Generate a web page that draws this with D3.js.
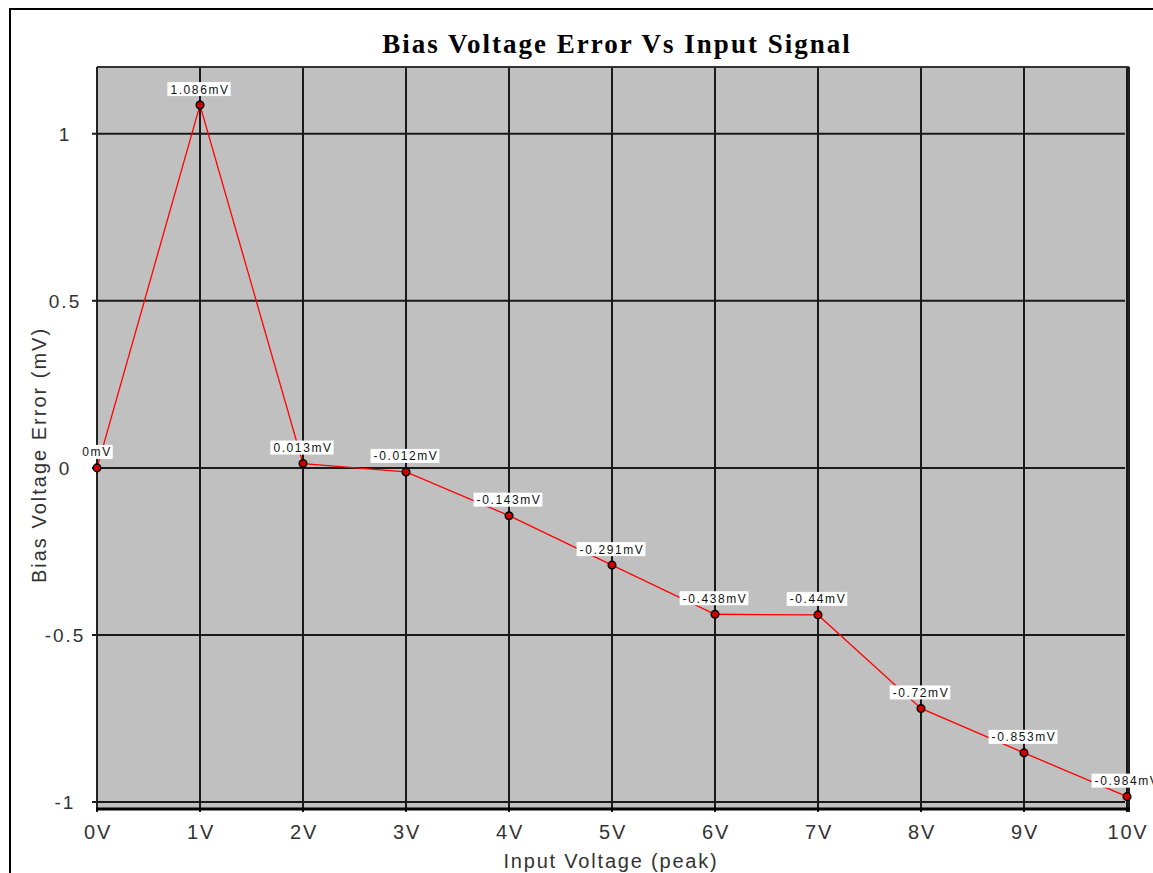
<!DOCTYPE html>
<html><head><meta charset="utf-8">
<script src="https://cdn.jsdelivr.net/npm/d3@7"></script>
<style>body{margin:0;background:#fff;overflow:hidden}svg{display:block}</style>
</head><body>
<svg id="chart" width="1153" height="873"></svg>
<script>
const categories = ["0V","1V","2V","3V","4V","5V","6V","7V","8V","9V","10V"];
const values = [0, 1.086, 0.013, -0.012, -0.143, -0.291, -0.438, -0.44, -0.72, -0.853, -0.984];
const pointLabels = ["0mV","1.086mV","0.013mV","-0.012mV","-0.143mV","-0.291mV","-0.438mV","-0.44mV","-0.72mV","-0.853mV","-0.984mV"];
const yTicks = [1, 0.5, 0, -0.5, -1];
const yTickLabels = ["1","0.5","0","-0.5","-1"];
const title = "Bias Voltage Error Vs Input Signal";
const xTitle = "Input Voltage (peak)";
const yTitle = "Bias Voltage Error (mV)";

const svg = d3.select("#chart");
const L = 97, R = 1127, T = 67, B = 808;
const x = d3.scalePoint().domain(categories).range([L, R]);
const y = d3.scaleLinear().domain([-1.018, 1.2]).range([B, T]);
const sans = "Liberation Sans, Arial, sans-serif";

// outer frame
svg.append("rect").attr("x",10).attr("y",9).attr("width",1200).attr("height",1000)
  .attr("fill","#fff").attr("stroke","#000").attr("stroke-width",2);

// plot background
svg.append("rect").attr("x",L).attr("y",T).attr("width",R-L+1).attr("height",B-T)
  .attr("fill","#c0c0c0");

// horizontal grid
svg.append("g").selectAll("line").data(yTicks).join("line")
  .attr("x1",L-5).attr("x2",R-2).attr("y1",d=>y(d)).attr("y2",d=>y(d))
  .attr("stroke","#1a1a1a").attr("stroke-width",2);

// vertical grid
svg.append("g").selectAll("line").data(categories).join("line")
  .attr("x1",d=>x(d)).attr("x2",d=>x(d)).attr("y1",T).attr("y2",B+4)
  .attr("stroke","#1a1a1a").attr("stroke-width",2);

// plot border
svg.append("line").attr("x1",L).attr("x2",R+2).attr("y1",T).attr("y2",T).attr("stroke","#333").attr("stroke-width",2);
svg.append("line").attr("x1",L).attr("x2",L).attr("y1",T).attr("y2",B+4).attr("stroke","#222").attr("stroke-width",2);
svg.append("line").attr("x1",R+2).attr("x2",R+2).attr("y1",T).attr("y2",B+4).attr("stroke","#222").attr("stroke-width",2);
// bottom axis (thick)
svg.append("line").attr("x1",L-1).attr("x2",R+3).attr("y1",B+1).attr("y2",B+1).attr("stroke","#000").attr("stroke-width",3);

// y tick labels
svg.append("g").selectAll("text").data(yTicks).join("text")
  .attr("x",65).attr("y",d=>y(d)+7).attr("text-anchor","middle")
  .attr("font-family",sans).attr("font-size",19).attr("letter-spacing",2).attr("fill","#333")
  .text((d,i)=>yTickLabels[i]);

// x tick labels
svg.append("g").selectAll("text").data(categories).join("text")
  .attr("x",d=>x(d)+1).attr("y",839).attr("text-anchor","middle")
  .attr("font-family",sans).attr("font-size",20).attr("letter-spacing",1.8).attr("fill","#333")
  .text(d=>d);

// line
const line = d3.line().x((d,i)=>x(categories[i])).y(d=>y(d));
svg.append("path").datum(values).attr("d",line).attr("fill","none").attr("stroke","#ff0000").attr("stroke-width",1.3);

// markers
svg.append("g").selectAll("circle").data(values).join("circle")
  .attr("cx",(d,i)=>x(categories[i])).attr("cy",d=>y(d)).attr("r",3.8)
  .attr("fill","#d00000").attr("stroke","#000").attr("stroke-width",1.5);

// point labels
const lg = svg.append("g").selectAll("g").data(values).join("g")
  .attr("transform",(d,i)=>`translate(${x(categories[i])},${y(d)-16})`);
lg.each(function(d,i){
  const g = d3.select(this);
  const t = g.append("text").attr("x",0).attr("y",4.5).attr("text-anchor","middle")
    .attr("font-family",sans).attr("font-size",12).attr("fill","#111")
    .attr("letter-spacing","1.6").text(pointLabels[i]);
  const bb = t.node().getBBox();
  g.insert("rect","text").attr("x",bb.x-3).attr("y",-7).attr("width",bb.width+4).attr("height",14).attr("fill","#fff");
});

// title
svg.append("text").attr("x",617).attr("y",53).attr("text-anchor","middle")
  .attr("font-family","Liberation Serif, Times New Roman, serif").attr("font-weight","bold").attr("font-size",27)
  .attr("letter-spacing",2).attr("fill","#000").text(title);

// x title
svg.append("text").attr("x",611).attr("y",868).attr("text-anchor","middle")
  .attr("font-family",sans).attr("font-size",20).attr("letter-spacing",1.8).attr("fill","#333").text(xTitle);

// y title
svg.append("text").attr("transform","translate(46,455) rotate(-90)").attr("text-anchor","middle")
  .attr("font-family",sans).attr("font-size",20).attr("letter-spacing",2).attr("fill","#333").text(yTitle);
</script>
</body></html>
